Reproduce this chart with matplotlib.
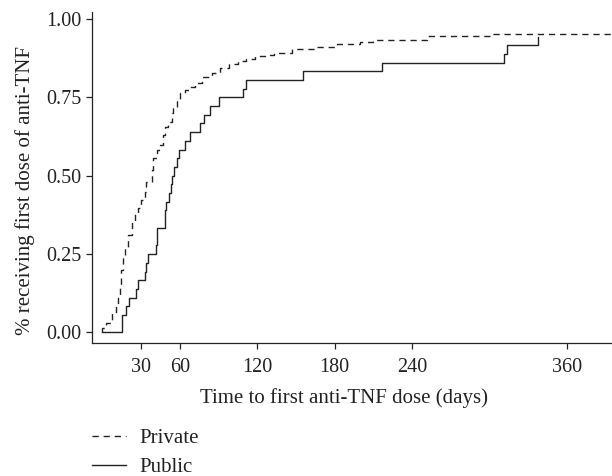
import matplotlib
matplotlib.use("Agg")
import matplotlib.pyplot as plt
from matplotlib.ticker import FormatStrFormatter

plt.rcParams['font.family'] = ['Liberation Serif', 'DejaVu Serif']

# Private group: time (days) and cumulative proportion receiving first dose
private_days = [0, 0, 3.2, 7.1, 10.9, 12.2, 13.5, 14.8, 16.1, 17.4, 19.9, 22.6, 25.1,
                27.7, 30.3, 32.9, 34.2, 38.1, 39.4, 42.0, 44.5, 47.1, 48.4, 51.0,
                53.6, 54.8, 57.5, 60.0, 63.9, 67.8, 71.7, 76.9, 85.0, 91.0, 98.0,
                105.0, 111.0, 118.2, 127.3, 133.0, 146.8, 164.8, 181.6, 199.7,
                210.0, 251.4, 301.9, 395]
private_prop = [0, 0.013, 0.029, 0.061, 0.087, 0.119, 0.146, 0.199, 0.241, 0.273,
                0.311, 0.353, 0.380, 0.396, 0.422, 0.449, 0.481, 0.518, 0.555,
                0.582, 0.598, 0.630, 0.656, 0.672, 0.699, 0.720, 0.741, 0.763,
                0.773, 0.784, 0.797, 0.814, 0.827, 0.843, 0.855, 0.866, 0.873,
                0.882, 0.886, 0.890, 0.904, 0.912, 0.920, 0.928, 0.933, 0.946,
                0.953, 0.953]

# Public group
public_days = [0, 15.5, 18.7, 20.7, 26.4, 27.8, 32.9, 34.2, 35.5, 41.4, 42.4, 48.4,
               49.7, 51.5, 53.0, 54.0, 55.5, 57.5, 59.5, 64.0, 68.0, 75.6, 79.0,
               83.3, 90.5, 109.0, 111.5, 155.7, 217.0, 311.0, 314.0, 338.0]
public_prop = [0, 0.056, 0.083, 0.111, 0.139, 0.167, 0.194, 0.222, 0.250, 0.278,
               0.333, 0.389, 0.417, 0.444, 0.472, 0.500, 0.528, 0.556, 0.583,
               0.611, 0.639, 0.667, 0.694, 0.722, 0.750, 0.778, 0.806, 0.833,
               0.861, 0.889, 0.917, 0.944]

x_ticks = [30, 60, 120, 180, 240, 360]
y_ticks = [0.00, 0.25, 0.50, 0.75, 1.00]

fig = plt.figure(figsize=(6.12, 4.76), dpi=100)
ax = fig.add_axes([0.1508, 0.2788, 0.8492, 0.6966])

ax.step(private_days, private_prop, where='post', color='#222222', lw=1.0,
        linestyle=(0, (4.5, 3.5)), label='Private')
ax.step(public_days, public_prop, where='post', color='#222222', lw=1.0,
        linestyle='-', label='Public')

ax.set_xlim(-7.8, 395)
ax.set_ylim(-0.0351, 1.0233)
ax.set_xticks(x_ticks)
ax.set_yticks(y_ticks)
ax.yaxis.set_major_formatter(FormatStrFormatter('%.2f'))

for s in ['top', 'right']:
    ax.spines[s].set_visible(False)
for s in ['left', 'bottom']:
    ax.spines[s].set_linewidth(0.9)
    ax.spines[s].set_color('#222222')

ax.tick_params(axis='both', direction='out', length=4.2, width=0.9,
               color='#222222', labelsize=14.5, labelcolor='#222222')
ax.tick_params(axis='x', pad=6.5)
ax.tick_params(axis='y', pad=3.5)

ax.set_xlabel('Time to first anti-TNF dose (days)', fontsize=15,
              color='#222222', va='center')
ax.xaxis.set_label_coords(0.4834, -0.166)
ax.set_ylabel('% receiving first dose of anti-TNF', fontsize=15,
              color='#222222', va='center', ha='center')
ax.yaxis.set_label_coords(-0.1295, 0.4623)

leg = fig.legend(loc='upper left', bbox_to_anchor=(0.1508, 0.099), frameon=False,
                 fontsize=15, handlelength=1.63, handletextpad=0.64,
                 labelspacing=0.45, borderaxespad=0, borderpad=0)
for t in leg.get_texts():
    t.set_color('#222222')

fig.savefig('out.png', dpi=100)
